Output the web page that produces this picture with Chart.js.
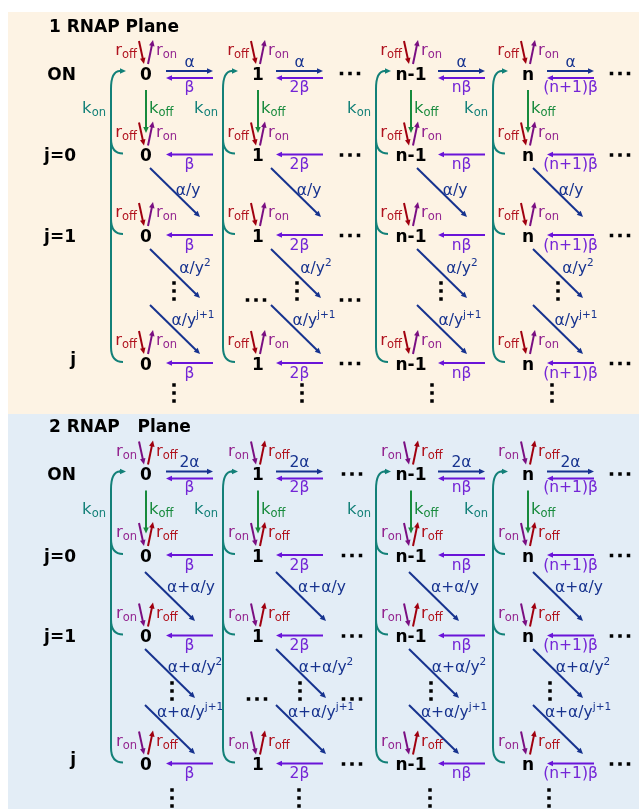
<!DOCTYPE html>
<html><head><meta charset="utf-8">
<script src="https://cdn.jsdelivr.net/npm/chart.js@4/dist/chart.umd.min.js"></script>
<style>html,body{margin:0;padding:0;background:#fff;}canvas{display:block;}</style>
</head><body>
<canvas id="c" width="639" height="809"></canvas>
<script>
// ---------------- data ----------------
const states = ['0', '1', 'n-1', 'n'];
const rowLabels = ['ON', 'j=0', 'j=1', 'j'];
const panelTitles = ['1 RNAP Plane', '2 RNAP\u00a0\u00a0\u00a0Plane'];
const forwardRates = [['α', 'α', 'α', 'α'], ['2α', '2α', '2α', '2α']];
const backwardRates = ['β', '2β', 'nβ', '(n+1)β'];
const diagBase = ['α/y', 'α+α/y'];
const diagPowers = ['', '2', 'j+1'];
const leftRateSub = ['off', 'on'];   // rate drawn left of each state (arrow into state)
const rightRateSub = ['on', 'off'];  // rate drawn right of each state (arrow out of state)

// ---------------- layout ----------------
const FONT = "'DejaVu Sans'";
const colX = [146, 258, 411, 528];
const rowY = [[73, 154.5, 235, 363], [473.5, 555, 635.5, 763.5]];
const panelBox = [[8, 12, 639, 414], [8, 414, 639, 809]];
const panelBg = ['#fdf3e4', '#e3edf6'];
const titleY = [32, 432];
const arrowStart = [166, 276, 438, 547];
const arrowLen = 47;
const diagStart = [[150, 271, 417, 533], [145, 276, 409, 533]];
const diagY = [[168, 249, 305], [572, 649, 705]];
const diagLabelY = [[195, 273, 325], [592, 672, 717]];
const diagLabelDx = [[38, 45, 43], [46, 50, 45]];
const vDotsDiagX = [[174, 297, 441, 558], [172, 300, 431, 550]];
const vDotsDiagY = [283, 683];
const vDotsEndX = [[174, 302, 432, 552], [172, 299, 430, 549]];
const vDotsEndY = [385, 790];
const hDotsX = [[350, 620], [352, 620]];
const hDotsDiagX = [[256, 350], [257, 352]];
const hDotsDiagY = [300, 699];

const C = {
  red: '#b0121e', redArrow: '#a0000f',
  purple: '#93248f', purpleArrow: '#7a0f82',
  navy: '#17338f', violet: '#6a14d8', violetText: '#7425d6',
  green: '#178a3c', teal: '#138078', black: '#000'
};

// node points through the library's scatter dataset
const nodePoints = [];
for (let p = 0; p < 2; p++) for (let r = 0; r < rowLabels.length; r++) for (let c = 0; c < states.length; c++)
  nodePoints.push({ x: colX[c], y: rowY[p][r], label: states[c] });

function rich(ctx, parts, x, y, align) {
  let total = 0;
  parts.forEach(pt => {
    ctx.font = (pt.w || 'normal') + ' ' + pt.s + 'px ' + FONT;
    pt.width = ctx.measureText(pt.t).width; total += pt.width;
  });
  let sx = align === 'center' ? x - total / 2 : align === 'right' ? x - total : x;
  ctx.textAlign = 'left'; ctx.textBaseline = 'alphabetic';
  parts.forEach(pt => {
    ctx.font = (pt.w || 'normal') + ' ' + pt.s + 'px ' + FONT;
    ctx.fillStyle = pt.c;
    ctx.fillText(pt.t, sx, y + (pt.dy || 0));
    sx += pt.width;
  });
}
function sub(main, s, color) { return [{ t: main, s: 16.5, c: color }, { t: s, s: 11.5, dy: 3, c: color }]; }
function sup(main, s, color) { const a = [{ t: main, s: 15.5, c: color }]; if (s) a.push({ t: s, s: 10.5, dy: -7, c: color }); return a; }

function arrow(ctx, x1, y1, x2, y2, color, lw, hl, hw) {
  lw = lw || 1.8; hl = hl || 6; hw = hw || 3;
  const ang = Math.atan2(y2 - y1, x2 - x1);
  const ca = Math.cos(ang), sa = Math.sin(ang);
  const bx = x2 - hl * ca, by = y2 - hl * sa;
  ctx.strokeStyle = color; ctx.lineWidth = lw; ctx.lineCap = 'butt';
  ctx.beginPath(); ctx.moveTo(x1, y1); ctx.lineTo(bx + 1 * ca, by + 1 * sa); ctx.stroke();
  ctx.fillStyle = color; ctx.beginPath();
  ctx.moveTo(x2, y2); ctx.lineTo(bx - hw * sa, by + hw * ca); ctx.lineTo(bx + hw * sa, by - hw * ca);
  ctx.closePath(); ctx.fill();
}

const diagramPlugin = {
  id: 'diagram',
  beforeDraw(chart) {
    const ctx = chart.ctx, X = chart.scales.x, Y = chart.scales.y;
    ctx.save();
    ctx.fillStyle = '#fff'; ctx.fillRect(0, 0, chart.width, chart.height);
    panelBox.forEach((b, p) => {
      const x0 = X.getPixelForValue(b[0]), y0 = Y.getPixelForValue(b[1]);
      const x1 = X.getPixelForValue(b[2]), y1 = Y.getPixelForValue(b[3]);
      ctx.fillStyle = panelBg[p]; ctx.fillRect(x0, y0, x1 - x0, y1 - y0);
    });
    ctx.restore();
  },
  afterDatasetsDraw(chart) {
    const ctx = chart.ctx, X = chart.scales.x, Y = chart.scales.y;
    const px = v => X.getPixelForValue(v), py = v => Y.getPixelForValue(v);
    ctx.save();
    const dots = (x, y, vertical) => {
      ctx.fillStyle = C.black;
      for (let k = -1; k <= 1; k++) {
        const cx = vertical ? px(x) : px(x) + k * 8.5, cy = vertical ? py(y) + (k + 1) * 8 : py(y);
        ctx.fillRect(cx - 1.75, cy - 1.75, 3.5, 3.5);
      }
    };
    for (let p = 0; p < 2; p++) {
      const R = rowY[p];
      // title
      rich(ctx, [{ t: panelTitles[p], s: 17, w: 'bold', c: C.black }], px(49), py(titleY[p]), 'left');
      // row labels
      rowLabels.forEach((lab, r) => {
        const dy = r === 3 ? -5 : 0;
        rich(ctx, [{ t: lab, s: 17, w: 'bold', c: C.black }], px(76), py(R[r]) + 6.5 + dy, 'right');
      });
      states.forEach((st, c) => {
        const cx = colX[c];
        const leftCol = p === 0 ? C.red : C.purple, leftArr = p === 0 ? C.redArrow : C.purpleArrow;
        const rightCol = p === 0 ? C.purple : C.red, rightArr = p === 0 ? C.purpleArrow : C.redArrow;
        // r_on / r_off arrows on each row
        R.forEach(cy => {
          arrow(ctx, px(cx - 7), py(cy - 32), px(cx - 2), py(cy - 9), leftArr, 2, 6, 2.8);
          arrow(ctx, px(cx + 2), py(cy - 9), px(cx + 7), py(cy - 33), rightArr, 2, 6, 2.8);
          rich(ctx, sub('r', leftRateSub[p], leftCol), px(cx - 9), py(cy - 18), 'right');
          rich(ctx, sub('r', rightRateSub[p], rightCol), px(cx + 10), py(cy - 18), 'left');
        });
        // ON row horizontal arrows
        const a0 = arrowStart[c], a1 = a0 + arrowLen, mid = (a0 + a1) / 2;
        arrow(ctx, px(a0), py(R[0] - 2), px(a1), py(R[0] - 2), C.navy, 2, 6, 2.8);
        arrow(ctx, px(a1), py(R[0] + 5), px(a0), py(R[0] + 5), C.violet, 2, 6, 2.8);
        rich(ctx, [{ t: forwardRates[p][c], s: 15.5, c: C.navy }], px(mid), py(R[0] - 6.5), 'center');
        rich(ctx, [{ t: backwardRates[c], s: 15.5, c: C.violetText }], px(mid), py(R[0] + 18.5), 'center');
        // j rows backward arrows
        for (let r = 1; r < R.length; r++) {
          arrow(ctx, px(a1), py(R[r]), px(a0), py(R[r]), C.violet, 2, 6, 2.8);
          rich(ctx, [{ t: backwardRates[c], s: 15.5, c: C.violetText }], px(mid), py(R[r] + 14.5), 'center');
        }
        // k_off
        arrow(ctx, px(cx), py(R[0] + 17), px(cx), py(R[0] + 60), C.green, 2, 6, 2.8);
        rich(ctx, sub('k', 'off', C.green), px(cx + 3), py(R[0] + 40), 'left');
        // k_on bracket
        const tx = cx - 35;
        ctx.strokeStyle = C.teal; ctx.lineWidth = 2;
        ctx.beginPath();
        ctx.moveTo(px(tx + 12), py(R[3] - 1));
        ctx.quadraticCurveTo(px(tx), py(R[3] - 1), px(tx), py(R[3] - 16));
        ctx.lineTo(px(tx), py(R[0] + 16));
        ctx.quadraticCurveTo(px(tx), py(R[0] - 2), px(tx + 9), py(R[0] - 2));
        ctx.stroke();
        arrow(ctx, px(tx + 8), py(R[0] - 2), px(tx + 15), py(R[0] - 2), C.teal, 2, 6, 2.8);
        [1, 2].forEach(r => {
          ctx.beginPath();
          ctx.moveTo(px(tx), py(R[r] - 16));
          ctx.quadraticCurveTo(px(tx), py(R[r] - 1), px(tx + 12), py(R[r] - 1));
          ctx.stroke();
        });
        rich(ctx, sub('k', 'on', C.teal), px(tx - 5), py(R[0] + 40), 'right');
        // diagonal arrows
        const ds = diagStart[p][c];
        diagY[p].forEach((dy0, k) => {
          arrow(ctx, px(ds), py(dy0), px(ds + 50), py(dy0 + 49), C.navy, 2, 6, 2.8);
          rich(ctx, sup(diagBase[p], diagPowers[k], C.navy), px(ds + diagLabelDx[p][k]), py(diagLabelY[p][k]), 'center');
        });
        // vertical dots
        dots(vDotsDiagX[p][c], vDotsDiagY[p], true);
        dots(vDotsEndX[p][c], vDotsEndY[p], true);
      });
      // horizontal dots
      R.forEach(cy => hDotsX[p].forEach(x => dots(x, cy + 0.5, false)));
      hDotsDiagX[p].forEach(x => dots(x, hDotsDiagY[p], false));
    }
    // state labels from dataset elements
    const meta = chart.getDatasetMeta(0);
    meta.data.forEach((el, i) => {
      rich(ctx, [{ t: nodePoints[i].label, s: 17, w: 'bold', c: C.black }], el.x, el.y + 6.5, 'center');
    });
    ctx.restore();
  }
};

new Chart(document.getElementById('c'), {
  type: 'scatter',
  data: { datasets: [{ data: nodePoints, pointRadius: 0, pointHoverRadius: 0, showLine: false }] },
  options: {
    responsive: false, animation: false, events: [],
    layout: { padding: 0 },
    plugins: { legend: { display: false }, tooltip: { enabled: false }, title: { display: false } },
    scales: {
      x: { type: 'linear', min: 0, max: 639, display: false },
      y: { type: 'linear', min: 0, max: 809, reverse: true, display: false }
    }
  },
  plugins: [diagramPlugin]
});
</script>
</body></html>
